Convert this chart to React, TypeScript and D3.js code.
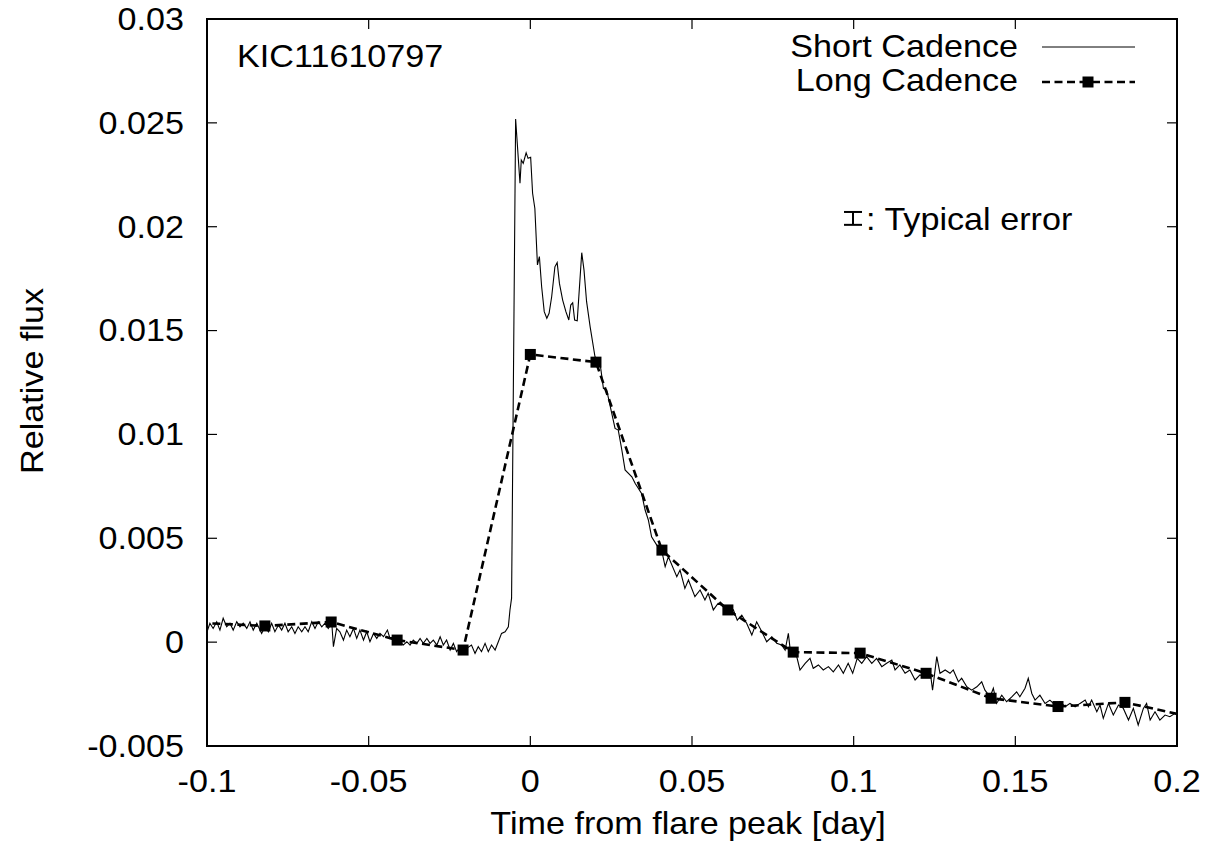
import React from "react";
import * as d3 from "d3";

// Short cadence light curve (time from flare peak [day], relative flux)
const scTime = [
  -0.1, -0.0991, -0.0981, -0.097, -0.096, -0.095, -0.0939, -0.0929, -0.0919, -0.0908,
  -0.0898, -0.0888, -0.0877, -0.0867, -0.0857, -0.0846, -0.0831, -0.0821, -0.081, -0.08,
  -0.079, -0.0779, -0.0769, -0.0759, -0.0749, -0.0738, -0.0728, -0.0718, -0.0707, -0.0697,
  -0.0687, -0.0676, -0.0666, -0.0656, -0.0645, -0.0635, -0.0625, -0.0614, -0.0609, -0.0599,
  -0.0589, -0.0578, -0.0568, -0.0558, -0.0547, -0.0537, -0.0527, -0.0516, -0.0506, -0.0496,
  -0.0485, -0.0475, -0.0465, -0.0454, -0.0442, -0.0434, -0.0424, -0.0408, -0.0393, -0.0382,
  -0.0372, -0.0362, -0.0351, -0.0341, -0.0331, -0.032, -0.031, -0.03, -0.0289, -0.0279,
  -0.0269, -0.0259, -0.0248, -0.0238, -0.0228, -0.0217, -0.0207, -0.0197, -0.0182, -0.0171,
  -0.0161, -0.0151, -0.014, -0.013, -0.012, -0.0109, -0.0099, -0.0089, -0.0078, -0.0068,
  -0.0063, -0.0058, -0.00455, -0.0032, -0.0028, -0.0022, -0.0013, -0.0007, 0.0001, 0.0007,
  0.0014, 0.0022, 0.0028, 0.0035, 0.0043, 0.0051, 0.0058, 0.0066, 0.0076, 0.0083,
  0.009, 0.01, 0.011, 0.0119, 0.0125, 0.0131, 0.0137, 0.0145, 0.0159, 0.0166,
  0.0174, 0.0185, 0.02, 0.0215, 0.0226, 0.0236, 0.0262, 0.0272, 0.0283, 0.0293,
  0.0314, 0.0324, 0.0344, 0.0355, 0.0365, 0.0375, 0.0391, 0.0406, 0.0417, 0.0427,
  0.0453, 0.0463, 0.0478, 0.0489, 0.0509, 0.0525, 0.054, 0.055, 0.0566, 0.0581,
  0.0597, 0.0612, 0.0628, 0.064, 0.0654, 0.0669, 0.0685, 0.07, 0.0716, 0.0731,
  0.0747, 0.0762, 0.0777, 0.0788, 0.0798, 0.0805, 0.0813, 0.0819, 0.0834, 0.085,
  0.0865, 0.0875, 0.0891, 0.0906, 0.0922, 0.0937, 0.0953, 0.0968, 0.0983, 0.0997,
  0.1011, 0.1025, 0.104, 0.1056, 0.1071, 0.1087, 0.1102, 0.1118, 0.1128, 0.1143,
  0.1159, 0.1174, 0.119, 0.1205, 0.1221, 0.1236, 0.1244, 0.1257, 0.1267, 0.1283,
  0.1298, 0.1308, 0.1324, 0.1334, 0.135, 0.1365, 0.1381, 0.1396, 0.1406, 0.1422,
  0.1432, 0.1442, 0.1458, 0.1473, 0.1489, 0.1504, 0.1514, 0.153, 0.154, 0.1551,
  0.1561, 0.1576, 0.1592, 0.1607, 0.1623, 0.1638, 0.1654, 0.1669, 0.1685, 0.17,
  0.1716, 0.1726, 0.1736, 0.1752, 0.1762, 0.1772, 0.1788, 0.1803, 0.1819, 0.1834,
  0.185, 0.1865, 0.188, 0.1896, 0.1906, 0.1917, 0.1932, 0.1947, 0.1963, 0.1978,
  0.1994, 0.2,
];
const scFlux = [
  0.0005, 0.00091, 0.00066, 0.00098, 0.00058, 0.00115, 0.00074, 0.00091, 0.00058, 0.00098,
  0.00074, 0.00091, 0.00066, 0.00098, 0.00058, 0.00091, 0.00042, 0.00074, 0.0005, 0.00091,
  0.0005, 0.00082, 0.00058, 0.00091, 0.0005, 0.00074, 0.00042, 0.00074, 0.0005, 0.00074,
  0.0005, 0.00098, 0.00066, 0.00098, 0.00074, 0.00091, 0.00066, 0.00091, -0.00022, 0.00066,
  0.0005, 0.0001, 0.00058, 0.00026, 0.00066, 0.00018, 0.00058, 0.0001, 0.0005, 0.00002,
  0.00042, 0.00018, 0.00042, 0.00026, 0.00058, 0.00018, 0.00026, 0.0001, -0.00014, 0.00002,
  -0.00014, 0.0001, -0.00006, 0.00018, -0.00006, 0.00018, -0.00006, 0.0001, -0.00014, 0.00026,
  -0.00014, 0.0001, -0.00038, -0.00006, -0.00046, -0.00022, -0.00046, -0.0003, -0.00014, -0.00054,
  -0.00022, -0.00046, -0.00006, -0.00046, -0.00014, -0.00038, 0.00002, 0.00042, 0.0005, 0.00074,
  0.00155, 0.00212, 0.02518, 0.02209, 0.02321, 0.02305, 0.02356, 0.02329, 0.02334, 0.02161,
  0.02088, 0.01816, 0.01856, 0.01711, 0.01591, 0.01559, 0.01583, 0.01663, 0.01807, 0.01827,
  0.01727, 0.01647, 0.01591, 0.01551, 0.01623, 0.01634, 0.01551, 0.01547, 0.01875, 0.01791,
  0.01639, 0.01518, 0.01374, 0.0135, 0.01222, 0.01214, 0.01029, 0.01021, 0.00925, 0.00829,
  0.00796, 0.00765, 0.00716, 0.00636, 0.00588, 0.00507, 0.00467, 0.00443, 0.00363, 0.00411,
  0.00315, 0.00347, 0.00259, 0.00299, 0.00219, 0.00251, 0.00203, 0.00235, 0.00155, 0.00187,
  0.0017, 0.00139, 0.00155, 0.00106, 0.0013, 0.00091, 0.00034, 0.00098, 0.0005, 0.00002,
  0.00026, -0.00006, -0.00014, -0.00038, 0.00042, -0.00054, -0.00062, -0.00038, -0.00134, -0.00102,
  -0.00078, -0.00126, -0.0011, -0.00134, -0.00118, -0.00143, -0.0011, -0.0015, -0.00102, -0.0015,
  -0.00078, -0.00102, -0.0007, -0.00102, -0.00078, -0.00118, -0.00102, -0.00086, -0.00134, -0.0011,
  -0.0015, -0.00134, -0.00182, -0.00158, -0.00167, -0.00134, -0.00231, -0.0007, -0.0015, -0.00134,
  -0.0015, -0.00134, -0.00191, -0.00174, -0.00215, -0.00231, -0.00215, -0.00191, -0.00231, -0.00263,
  -0.00222, -0.00295, -0.00255, -0.00287, -0.00263, -0.00239, -0.00263, -0.00222, -0.00174, -0.00247,
  -0.00279, -0.00255, -0.00295, -0.00279, -0.00303, -0.00287, -0.00311, -0.00295, -0.00311, -0.00295,
  -0.00279, -0.00311, -0.00279, -0.00335, -0.00303, -0.00367, -0.00295, -0.00351, -0.00303, -0.00319,
  -0.00375, -0.00319, -0.00399, -0.00319, -0.00295, -0.00375, -0.00335, -0.00375, -0.00351, -0.00359,
  -0.00343, -0.0035,
];

// Long cadence light curve
const lcTime = [
  -0.1022, -0.0821, -0.0616, -0.0412, -0.0208, 0.0, 0.0203, 0.0407, 0.0611, 0.0813,
  0.102, 0.1224, 0.1425, 0.1632, 0.1839, 0.2043,
];
const lcFlux = [
  0.00093, 0.00078, 0.00097, 0.0001, -0.00038, 0.01385, 0.01348, 0.00443, 0.00155, -0.00048,
  -0.00053, -0.0015, -0.0027, -0.0031, -0.0029, -0.0036,
];

// Axis ticks
const xTicks = [-0.1, -0.05, 0, 0.05, 0.1, 0.15, 0.2];
const xTickLabels = ["-0.1", "-0.05", "0", "0.05", "0.1", "0.15", "0.2"];
const yTicks = [-0.005, 0, 0.005, 0.01, 0.015, 0.02, 0.025, 0.03];
const yTickLabels = ["-0.005", "0", "0.005", "0.01", "0.015", "0.02", "0.025", "0.03"];

// Typical error bar annotation
const errX = [0.0998];
const errY = [0.0204];
const errHalf = [0.00031];

const W = 1217;
const H = 859;
const M = { left: 207, right: 1177, top: 19, bottom: 746 };
const FONT = "'Liberation Sans', Arial, Helvetica, sans-serif";
const FS = 30.5;
const SX = 1.12;

function T({ x, y, anchor = "start", rotate = 0, children }: any) {
  return (
    <text
      transform={`translate(${x},${y}) rotate(${rotate}) scale(${SX},1)`}
      textAnchor={anchor}
      fontFamily={FONT}
      fontSize={FS}
      fill="#000"
    >
      {children}
    </text>
  );
}

export default function App() {
  const x = d3.scaleLinear().domain([-0.1, 0.2]).range([M.left, M.right]);
  const y = d3.scaleLinear().domain([-0.005, 0.03]).range([M.bottom, M.top]);

  const sc = scTime.map((t, i) => [t, scFlux[i]] as [number, number]);
  const lc = lcTime.map((t, i) => [t, lcFlux[i]] as [number, number]);
  const line = d3
    .line<[number, number]>()
    .x((d) => x(d[0]))
    .y((d) => y(d[1]));

  const tickLen = 10;
  const sq = 11;

  return (
    <svg
      width={W}
      height={H}
      style={{ position: "absolute", left: 0, top: 0, background: "#fff" }}
    >
      <defs>
        <clipPath id="plotclip">
          <rect x={M.left} y={M.top} width={M.right - M.left} height={M.bottom - M.top} />
        </clipPath>
      </defs>
      <rect x={0} y={0} width={W} height={H} fill="#fff" />

      {/* ticks */}
      {xTicks.map((t, i) => (
        <g key={"xt" + i}>
          <line x1={x(t)} x2={x(t)} y1={M.bottom} y2={M.bottom - tickLen} stroke="#000" strokeWidth={1.2} />
          <line x1={x(t)} x2={x(t)} y1={M.top} y2={M.top + tickLen} stroke="#000" strokeWidth={1.2} />
          <T x={x(t)} y={792} anchor="middle">
            {xTickLabels[i]}
          </T>
        </g>
      ))}
      {yTicks.map((t, i) => (
        <g key={"yt" + i}>
          <line x1={M.left} x2={M.left + tickLen} y1={y(t)} y2={y(t)} stroke="#000" strokeWidth={1.2} />
          <line x1={M.right} x2={M.right - tickLen} y1={y(t)} y2={y(t)} stroke="#000" strokeWidth={1.2} />
          <T x={184} y={y(t) + 10.8} anchor="end">
            {yTickLabels[i]}
          </T>
        </g>
      ))}

      {/* data */}
      <g clipPath="url(#plotclip)">
        <path d={line(sc) || ""} fill="none" stroke="#000" strokeWidth={1.1} strokeLinejoin="miter" />
        <path
          d={line(lc) || ""}
          fill="none"
          stroke="#000"
          strokeWidth={2.6}
          strokeDasharray="8,4.5"
        />
        {lc.map((d, i) => (
          <rect key={"sq" + i} x={x(d[0]) - sq / 2} y={y(d[1]) - sq / 2} width={sq} height={sq} fill="#000" />
        ))}
      </g>

      {/* frame */}
      <rect
        x={M.left}
        y={M.top}
        width={M.right - M.left}
        height={M.bottom - M.top}
        fill="none"
        stroke="#000"
        strokeWidth={2}
      />

      {/* annotations */}
      <T x={237} y={67}>KIC11610797</T>
      <T x={1018} y={57} anchor="end">Short Cadence</T>
      <line x1={1042} x2={1135} y1={47} y2={47} stroke="#000" strokeWidth={1} />
      <T x={1018} y={91} anchor="end">Long Cadence</T>
      <line x1={1042} x2={1135} y1={82} y2={82} stroke="#000" strokeWidth={2.6} strokeDasharray="8,4.5" />
      <rect x={1088 - sq / 2} y={82 - sq / 2} width={sq} height={sq} fill="#000" />

      {errX.map((ex, i) => (
        <g key={"err" + i}>
          <line x1={x(ex)} x2={x(ex)} y1={y(errY[i] - errHalf[i])} y2={y(errY[i] + errHalf[i])} stroke="#000" strokeWidth={2} />
          <line x1={x(ex) - 9} x2={x(ex) + 9} y1={y(errY[i] - errHalf[i])} y2={y(errY[i] - errHalf[i])} stroke="#000" strokeWidth={2} />
          <line x1={x(ex) - 9} x2={x(ex) + 9} y1={y(errY[i] + errHalf[i])} y2={y(errY[i] + errHalf[i])} stroke="#000" strokeWidth={2} />
          <T x={x(ex) + 13} y={230}>: Typical error</T>
        </g>
      ))}

      {/* axis labels */}
      <T x={688} y={834} anchor="middle">Time from flare peak [day]</T>
      <T x={43} y={381} anchor="middle" rotate={-90}>Relative flux</T>
    </svg>
  );
}
